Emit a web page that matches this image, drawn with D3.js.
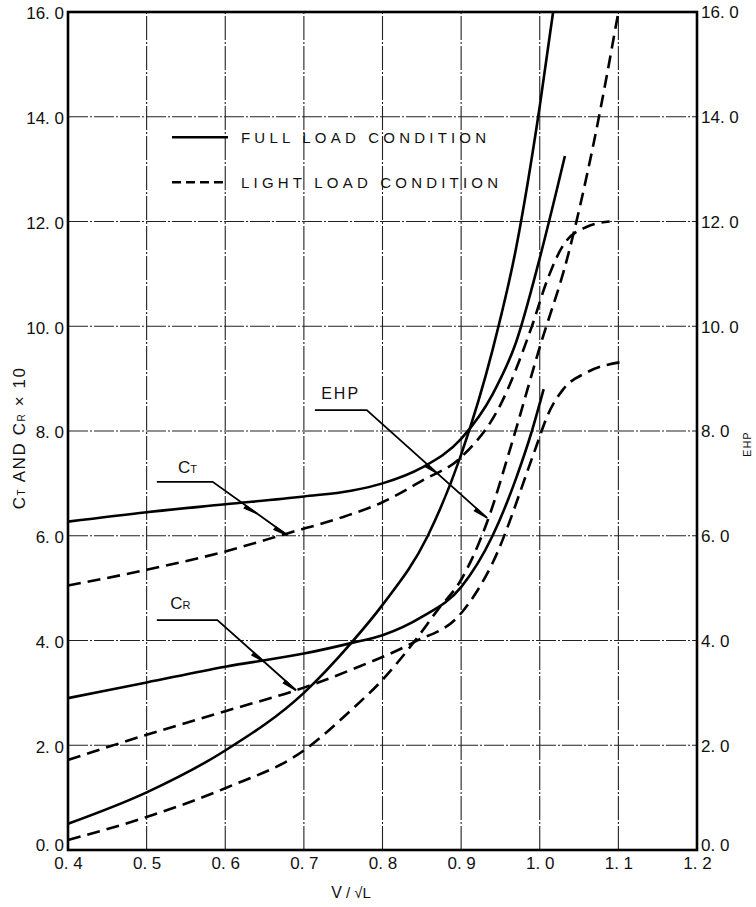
<!DOCTYPE html>
<meta charset="utf-8">
<head>
 <title>Resistance and EHP</title>
</head>
<style>
body { margin: 0; background: #fff; }
text { font-family: "Liberation Sans", "DejaVu Sans", sans-serif; fill: #111; }
</style>
<body>
<div id="content">
  <svg width="756" height="907"></svg>
</div>
<script src="https://d3js.org/d3.v7.min.js"></script>
<script>
var width = 756, height = 907

// x ticks and y ticks
var xTicks = [0.4, 0.5, 0.6, 0.7, 0.8, 0.9, 1.0, 1.1, 1.2]
var yTicks = [0, 2, 4, 6, 8, 10, 12, 14, 16]

// curves: [V/sqrt(L), value]
var ctFull = [[0.4,6.27],[0.5,6.45],[0.6,6.6],[0.7,6.75],[0.76,6.86],[0.8,7.0],[0.85,7.3],[0.9,7.85],[0.94,8.7],[0.97,9.7],[1.0,11.3],[1.02,12.5],[1.032,13.25]]
var ctLight = [[0.4,5.05],[0.5,5.35],[0.6,5.7],[0.68,6.05],[0.75,6.36],[0.8,6.64],[0.85,7.05],[0.9,7.5],[0.95,8.5],[0.99,10.0],[1.01,10.9],[1.03,11.55],[1.06,11.9],[1.089,12.0]]
var crFull = [[0.4,2.9],[0.5,3.2],[0.6,3.5],[0.7,3.75],[0.76,3.95],[0.8,4.1],[0.85,4.45],[0.9,5.02],[0.94,6.0],[0.97,7.1],[0.99,8.0],[1.005,8.8]]
var crLight = [[0.4,1.72],[0.5,2.2],[0.6,2.65],[0.7,3.1],[0.76,3.44],[0.84,3.97],[0.9,4.52],[0.94,5.48],[0.994,7.64],[1.01,8.3],[1.03,8.8],[1.06,9.12],[1.105,9.32]]
var ehpFull = [[0.4,0.5],[0.5,1.1],[0.6,1.9],[0.7,3.0],[0.76,3.95],[0.8,4.68],[0.857,5.98],[0.9,7.55],[0.94,9.55],[0.97,11.5],[1.0,14.2],[1.017,16.0]]
var ehpLight = [[0.4,0.19],[0.5,0.63],[0.6,1.18],[0.7,1.9],[0.76,2.67],[0.8,3.25],[0.84,3.97],[0.87,4.58],[0.9,5.16],[0.934,6.3],[0.962,7.64],[1.0,9.6],[1.035,11.3],[1.07,13.6],[1.1,16.0]]

// leader lines and labels for the three curve families
var leaders = [
  {label: "C", sub: "T", at: [0.54, 7.2], path: [[0.513,7.03],[0.584,7.03],[0.679,6.01]], barbs: [0.6, 1.0]},
  {label: "C", sub: "R", at: [0.53, 4.6], path: [[0.513,4.39],[0.59,4.39],[0.69,3.05]], barbs: [0.6, 1.0]},
  {label: "EHP", sub: "", at: [0.722, 8.62], path: [[0.714,8.4],[0.78,8.4],[0.933,6.34]], barbs: [0.59, 1.0]}
]

var margin = {left: 68, right: 59, top: 12, bottom: 57}
var svg = d3.select('svg')

var x = d3.scaleLinear().domain([0.4, 1.2]).range([margin.left, width - margin.right])
var y = d3.scaleLinear().domain([0, 16]).range([height - margin.bottom, margin.top])

// grid
svg.append('g').selectAll('line.v')
  .data(xTicks.slice(1, -1))
  .enter().append('line')
  .attr('x1', function(d) { return x(d) }).attr('x2', function(d) { return x(d) })
  .attr('y1', y(0)).attr('y2', y(16))
  .attr('stroke', '#222').attr('stroke-width', 1.1)
  .attr('stroke-dasharray', '24,2,2,2')

svg.append('g').selectAll('line.h')
  .data(yTicks.slice(1, -1))
  .enter().append('line')
  .attr('y1', function(d) { return y(d) }).attr('y2', function(d) { return y(d) })
  .attr('x1', x(0.4)).attr('x2', x(1.2))
  .attr('stroke', '#222').attr('stroke-width', 1.1)
  .attr('stroke-dasharray', '20,2,2,2')

// frame
svg.append('rect')
  .attr('x', x(0.4)).attr('y', y(16))
  .attr('width', x(1.2) - x(0.4)).attr('height', y(0) - y(16))
  .attr('fill', 'none').attr('stroke', '#000').attr('stroke-width', 2.6)

// axes (labels only, the frame is drawn above)
var fmt = function(d) { return d3.format('.1f')(d).replace('.', '. ') }

var left = svg.append('g').attr('transform', 'translate(' + x(0.4) + ',0)')
  .call(d3.axisLeft(y).tickValues(yTicks).tickSize(0).tickPadding(4).tickFormat(fmt))
var right = svg.append('g').attr('transform', 'translate(' + x(1.2) + ',0)')
  .call(d3.axisRight(y).tickValues(yTicks).tickSize(0).tickPadding(4).tickFormat(fmt))
var bottom = svg.append('g').attr('transform', 'translate(0,' + y(0) + ')')
  .call(d3.axisBottom(x).tickValues(xTicks).tickSize(0).tickPadding(7).tickFormat(fmt))

svg.selectAll('.domain').remove()
svg.selectAll('.tick text').style('font-size', '17px').style('font-family', '"Liberation Sans", sans-serif').attr('fill', '#111')
left.selectAll('.tick text').attr('dy', '0.4em')
right.selectAll('.tick text').attr('dy', '0.35em')
left.selectAll('.tick').filter(function(d) { return d === 0 }).select('text').attr('dy', '0.02em')
right.selectAll('.tick').filter(function(d) { return d === 0 }).select('text').attr('dy', '0.02em')

// axis titles
var lt = svg.append('text')
  .attr('transform', 'translate(25,' + y(7.87) + ') rotate(-90)')
  .attr('text-anchor', 'middle').style('font-size', '17px').style('letter-spacing', '1.6px')
lt.append('tspan').text('C')
lt.append('tspan').text('T').style('font-size', '10px')
lt.append('tspan').text(' AND C')
lt.append('tspan').text('R').style('font-size', '10px')
lt.append('tspan').text(' \u00d7 10')

svg.append('text')
  .attr('transform', 'translate(751,' + y(7.75) + ') rotate(-90)')
  .attr('text-anchor', 'middle').style('font-size', '11px').style('letter-spacing', '1px')
  .text('EHP')

var bt = svg.append('text')
  .attr('x', x(0.76)).attr('y', 898)
  .attr('text-anchor', 'middle').style('font-size', '16px')
bt.append('tspan').text('V')
bt.append('tspan').text(' / \u221aL').style('font-size', '15px')

// curves
var line = d3.line()
  .x(function(d) { return x(d[0]) })
  .y(function(d) { return y(d[1]) })
  .curve(d3.curveMonotoneX)

var curves = [
  {data: ctFull, dash: null},
  {data: ctLight, dash: '13,7'},
  {data: crFull, dash: null},
  {data: crLight, dash: '13,7'},
  {data: ehpFull, dash: null},
  {data: ehpLight, dash: '13,7'}
]

svg.append('g').selectAll('path')
  .data(curves)
  .enter().append('path')
  .attr('d', function(d) { return line(d.data) })
  .attr('fill', 'none')
  .attr('stroke', '#000')
  .attr('stroke-width', 2.6)
  .attr('stroke-dasharray', function(d) { return d.dash })

// leaders
var lg = svg.append('g')
leaders.forEach(function(l) {
  lg.append('path')
    .attr('d', d3.line().x(function(d) { return x(d[0]) }).y(function(d) { return y(d[1]) })(l.path))
    .attr('fill', 'none').attr('stroke', '#000').attr('stroke-width', 1.8)
  var a = l.path[1], b = l.path[2]
  var ax = x(a[0]), ay = y(a[1]), bx = x(b[0]), by = y(b[1])
  var len = Math.hypot(bx - ax, by - ay), ux = (bx - ax) / len, uy = (by - ay) / len
  l.barbs.forEach(function(t) {
    var px = ax + (bx - ax) * t, py = ay + (by - ay) * t
    lg.append('path')
      .attr('d', 'M' + (px - ux * 14 - uy * 3) + ',' + (py - uy * 14 + ux * 3) + 'L' + px + ',' + py + 'L' + (px - ux * 14) + ',' + (py - uy * 14) + 'Z')
      .attr('fill', '#000').attr('stroke', '#000').attr('stroke-width', 1.5)
  })
  var t = lg.append('text')
    .attr('x', x(l.at[0])).attr('y', y(l.at[1]))
    .style('font-size', l.sub ? '17px' : '16px')
    .style('letter-spacing', l.sub ? '0px' : '2px')
  t.append('tspan').text(l.label)
  if (l.sub) t.append('tspan').text(l.sub).style('font-size', '11px')
})

// legend
var legend = [
  {name: 'FULL LOAD CONDITION', dash: null, at: 13.61},
  {name: 'LIGHT LOAD CONDITION', dash: '9,5', at: 12.75}
]
var leg = svg.append('g')
legend.forEach(function(d) {
  leg.append('line')
    .attr('x1', 172).attr('x2', 228)
    .attr('y1', y(d.at)).attr('y2', y(d.at))
    .attr('stroke', '#000').attr('stroke-width', 2.4)
    .attr('stroke-dasharray', d.dash)
  leg.append('text')
    .attr('x', 241).attr('y', y(d.at) + 5.5)
    .style('font-size', '15px').style('letter-spacing', '4.2px')
    .text(d.name)
})
</script>
</body>
</html>
